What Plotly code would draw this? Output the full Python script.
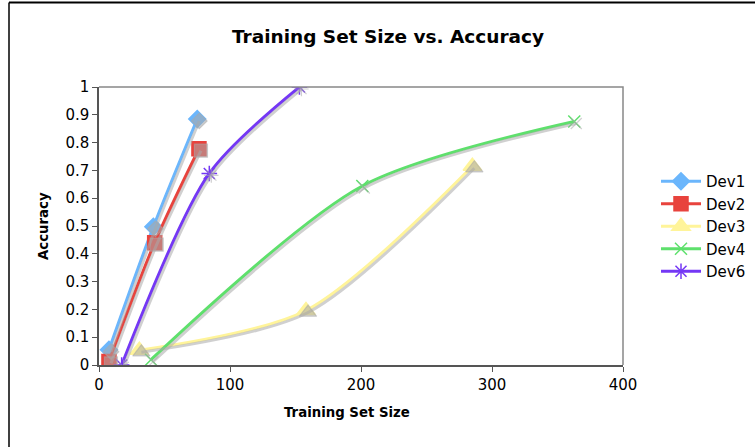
import plotly.graph_objects as go

series_names = ["Dev1", "Dev2", "Dev3", "Dev4", "Dev6"]
dev1_x = [7.6, 41.5, 75.0]
dev1_y = [0.055, 0.497, 0.885]
dev2_x = [7.6, 42.5, 76.3]
dev2_y = [0.013, 0.44, 0.778]
dev3_x = [30.8, 158.0, 285.0]
dev3_y = [0.053, 0.196, 0.715]
dev4_x = [39.7, 201.0, 362.8]
dev4_y = [0.019, 0.644, 0.876]
dev6_x = [17.3, 84.2, 153.0]
dev6_y = [0.0, 0.689, 1.0]

x_ticks = [0, 100, 200, 300, 400]
y_ticks = [0, 0.1, 0.2, 0.3, 0.4, 0.5, 0.6, 0.7, 0.8, 0.9, 1]
y_tick_text = ["0", "0.1", "0.2", "0.3", "0.4", "0.5", "0.6", "0.7", "0.8", "0.9", "1"]

colors = ["#6BB6FC", "#E8433D", "#FFF49A", "#5EE06C", "#7437F5"]
symbols = ["diamond", "square", "triangle-up", "x-thin-open", "asterisk-open"]
sizes = [13, 14, 16, 12, 13]
xs = [dev1_x, dev2_x, dev3_x, dev4_x, dev6_x]
ys = [dev1_y, dev2_y, dev3_y, dev4_y, dev6_y]

W, H = 755, 447
L, R, T, B = 99, 623, 87, 365
pw, ph = R - L, B - T

fig = go.Figure()

shadow = "rgba(170,170,170,0.55)"
dx = 2.0 / pw * 400
dy = 2.0 / ph * 1
for name, x, y, sym, sz in zip(series_names, xs, ys, symbols, sizes):
    fig.add_trace(go.Scatter(
        x=x, y=y, mode="lines+markers", xaxis="x2", yaxis="y2",
        line=dict(color=shadow, width=3, shape="spline", smoothing=0.8),
        marker=dict(symbol=sym, size=sz - 1, color=shadow,
                    line=dict(color=shadow, width=1.2)),
        showlegend=False, hoverinfo="skip"))

for name, x, y, c, sym, sz in zip(series_names, xs, ys, colors, symbols, sizes):
    fig.add_trace(go.Scatter(
        x=x, y=y, mode="lines+markers", name=name,
        line=dict(color=c, width=3, shape="spline", smoothing=0.8),
        marker=dict(symbol=sym, size=sz, color=c, line=dict(color=c, width=1.5))))

font = "DejaVu Sans, Verdana, sans-serif"
fig.update_layout(
    width=W, height=H,
    margin=dict(l=L, r=W - R, t=T, b=H - B, autoexpand=False),
    paper_bgcolor="white", plot_bgcolor="white",
    font=dict(family=font, size=15, color="black"),
    title=dict(text="<b>Training Set Size vs. Accuracy</b>", x=388 / W, xanchor="center",
               y=1 - 37 / H, yanchor="middle", font=dict(size=18.5, family=font)),
    xaxis=dict(range=[0, 400], tickvals=x_ticks, showgrid=False, zeroline=False,
               showline=True, linecolor="#555", linewidth=1.5, ticks="outside",
               ticklen=5, tickcolor="#555", tickfont=dict(size=15), mirror=False),
    yaxis=dict(range=[0, 1], tickvals=y_ticks, ticktext=y_tick_text, showgrid=False,
               zeroline=False, showline=True, linecolor="#555", linewidth=1.5,
               ticks="outside", ticklen=5, tickcolor="#555", tickfont=dict(size=15)),
    xaxis2=dict(range=[0 - dx, 400 - dx], overlaying="x", visible=False),
    yaxis2=dict(range=[0 + dy, 1 + dy], overlaying="y", visible=False),
    legend=dict(x=(656 - L) / pw, y=(B - 165) / ph, xanchor="left", yanchor="top",
                font=dict(size=15, family=font), tracegroupgap=0, itemwidth=40,
                bgcolor="rgba(0,0,0,0)"),
    showlegend=True,
)

fig.add_shape(type="path", xref="paper", yref="paper",
              path="M 0,1 L 1,1 L 1,0", line=dict(color="#888", width=1.5))
bx = (9 - L) / pw
by = (B - 2.5) / ph
fig.add_shape(type="line", xref="paper", yref="paper",
              x0=bx, x1=bx, y0=(B - H - 5) / ph, y1=by,
              line=dict(color="black", width=1.5))
fig.add_shape(type="line", xref="paper", yref="paper",
              x0=bx, x1=(W + 5 - L) / pw, y0=by, y1=by,
              line=dict(color="black", width=2))

fig.add_annotation(text="<b>Training Set Size</b>", xref="paper", yref="paper",
                   x=(347 - L) / pw, y=(B - 412) / ph, showarrow=False,
                   font=dict(size=13.3, family=font), xanchor="center", yanchor="middle")
fig.add_annotation(text="<b>Accuracy</b>", xref="paper", yref="paper",
                   x=(43 - L) / pw, y=(B - 226) / ph, showarrow=False, textangle=-90,
                   font=dict(size=13.3, family=font), xanchor="center", yanchor="middle")

fig.write_html("out.html", config={"displayModeBar": False},
               post_script="document.body.style.margin='0';document.body.style.overflow='hidden';")
